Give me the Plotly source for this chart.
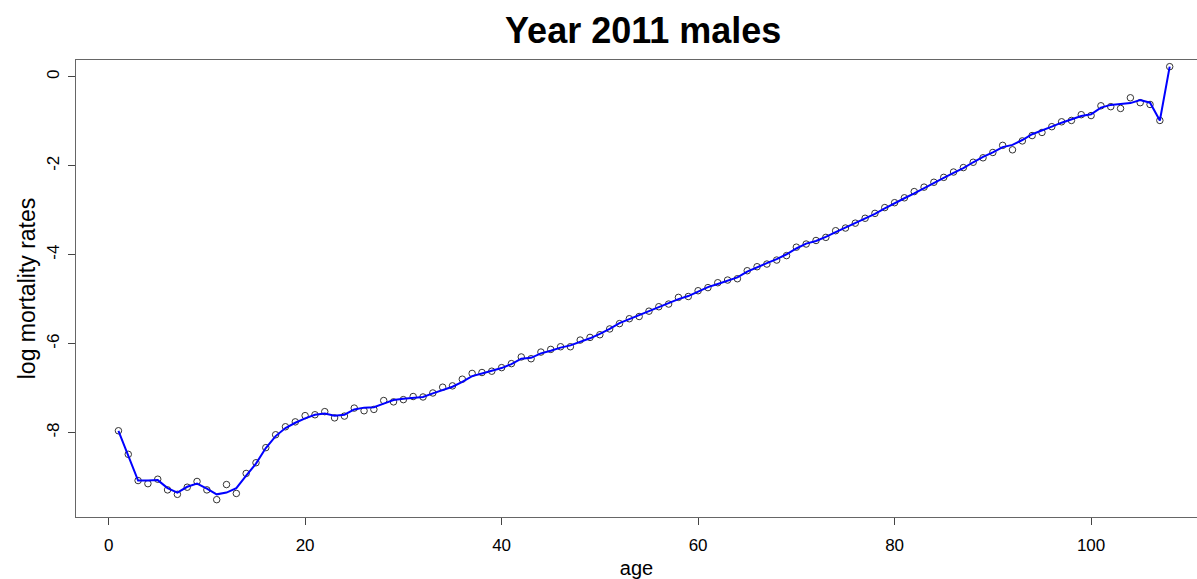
import plotly.graph_objects as go

# Ages 1..108 and log death rates for males, 2011
ages = list(range(1, 109))

log_rates = [
    -7.96, -8.49, -9.08, -9.15, -9.05, -9.29, -9.39, -9.23, -9.10, -9.29,
    -9.51, -9.17, -9.37, -8.92, -8.68, -8.34, -8.05, -7.87, -7.76, -7.62,
    -7.60, -7.53, -7.67, -7.63, -7.45, -7.51, -7.48, -7.28, -7.31, -7.26,
    -7.19, -7.20, -7.11, -6.98, -6.95, -6.80, -6.67, -6.65, -6.62, -6.54,
    -6.45, -6.30, -6.34, -6.19, -6.13, -6.07, -6.07, -5.92, -5.86, -5.80,
    -5.67, -5.55, -5.44, -5.39, -5.27, -5.17, -5.11, -4.96, -4.94, -4.81,
    -4.74, -4.63, -4.57, -4.54, -4.36, -4.27, -4.21, -4.12, -4.02, -3.83,
    -3.76, -3.68, -3.61, -3.46, -3.40, -3.29, -3.18, -3.07, -2.94, -2.83,
    -2.72, -2.58, -2.48, -2.37, -2.26, -2.14, -2.04, -1.92, -1.82, -1.70,
    -1.54, -1.64, -1.44, -1.32, -1.25, -1.12, -1.01, -0.98, -0.85, -0.87,
    -0.65, -0.67, -0.71, -0.47, -0.58, -0.62, -0.98, 0.23,
]

smoothed = [
    -7.96, -8.50, -9.08, -9.08, -9.07, -9.25, -9.35, -9.22, -9.15, -9.26,
    -9.39, -9.35, -9.25, -8.97, -8.70, -8.35, -8.08, -7.90, -7.78, -7.68,
    -7.60, -7.57, -7.62, -7.60, -7.48, -7.44, -7.43, -7.35, -7.27, -7.24,
    -7.22, -7.20, -7.12, -7.04, -6.97, -6.86, -6.73, -6.67, -6.61, -6.55,
    -6.46, -6.34, -6.32, -6.22, -6.16, -6.09, -6.04, -5.96, -5.88, -5.78,
    -5.67, -5.54, -5.45, -5.35, -5.26, -5.17, -5.08, -5.00, -4.93, -4.83,
    -4.73, -4.66, -4.59, -4.51, -4.38, -4.28, -4.19, -4.10, -3.99, -3.86,
    -3.75, -3.69, -3.60, -3.49, -3.39, -3.29, -3.19, -3.08, -2.96, -2.84,
    -2.73, -2.62, -2.50, -2.39, -2.27, -2.16, -2.05, -1.92, -1.80, -1.70,
    -1.58, -1.53, -1.42, -1.29, -1.21, -1.12, -1.03, -0.95, -0.88, -0.84,
    -0.69, -0.63, -0.61, -0.59, -0.52, -0.58, -0.98, 0.23,
]

x_ticks = [0, 20, 40, 60, 80, 100]
y_ticks = [-8, -6, -4, -2, 0]
y_tick_text = ["-8", "-6", "-4", "-2", "0"]

FONT = "Liberation Sans, Arial, sans-serif"

fig = go.Figure()

fig.add_trace(go.Scatter(
    x=ages, y=log_rates, mode="markers",
    marker=dict(symbol="circle-open", size=6.5, color="#333333",
                line=dict(width=1, color="#333333")),
    showlegend=False,
))

fig.add_trace(go.Scatter(
    x=ages, y=smoothed, mode="lines",
    line=dict(color="#0000FF", width=2),
    showlegend=False,
))

fig.update_layout(
    width=1197, height=579,
    margin=dict(l=76, r=0, t=60, b=62),
    paper_bgcolor="white", plot_bgcolor="white",
    font=dict(family=FONT, color="black"),
    title=dict(
        text="<b>Year 2011 males</b>",
        x=0.506, xanchor="center", xref="paper",
        y=0.948, yanchor="middle", yref="container",
        font=dict(family=FONT, size=36, color="black"),
    ),
    xaxis=dict(
        range=[-3.32, 110.78],
        tickmode="array", tickvals=x_ticks,
        ticks="outside", ticklen=7, tickcolor="#444444", tickwidth=1,
        showline=True, linecolor="#666666", linewidth=1, mirror=True,
        showgrid=False, zeroline=False,
        tickfont=dict(size=17, family=FONT, color="black"),
        ticklabelstandoff=6,
        title=dict(text="age", font=dict(size=20, family=FONT), standoff=6),
    ),
    yaxis=dict(
        range=[-9.90, 0.38],
        tickmode="array", tickvals=y_ticks, ticktext=y_tick_text,
        ticks="outside", ticklen=7, tickcolor="#444444", tickwidth=1,
        showline=True, linecolor="#666666", linewidth=1, mirror=False,
        showgrid=False, zeroline=False,
        tickangle=-90,
        tickfont=dict(size=17, family=FONT, color="black"),
        ticklabelstandoff=2,
        title=dict(text="log mortality rates", font=dict(size=23, family=FONT), standoff=2),
    ),
)

fig.write_html("out.html")
